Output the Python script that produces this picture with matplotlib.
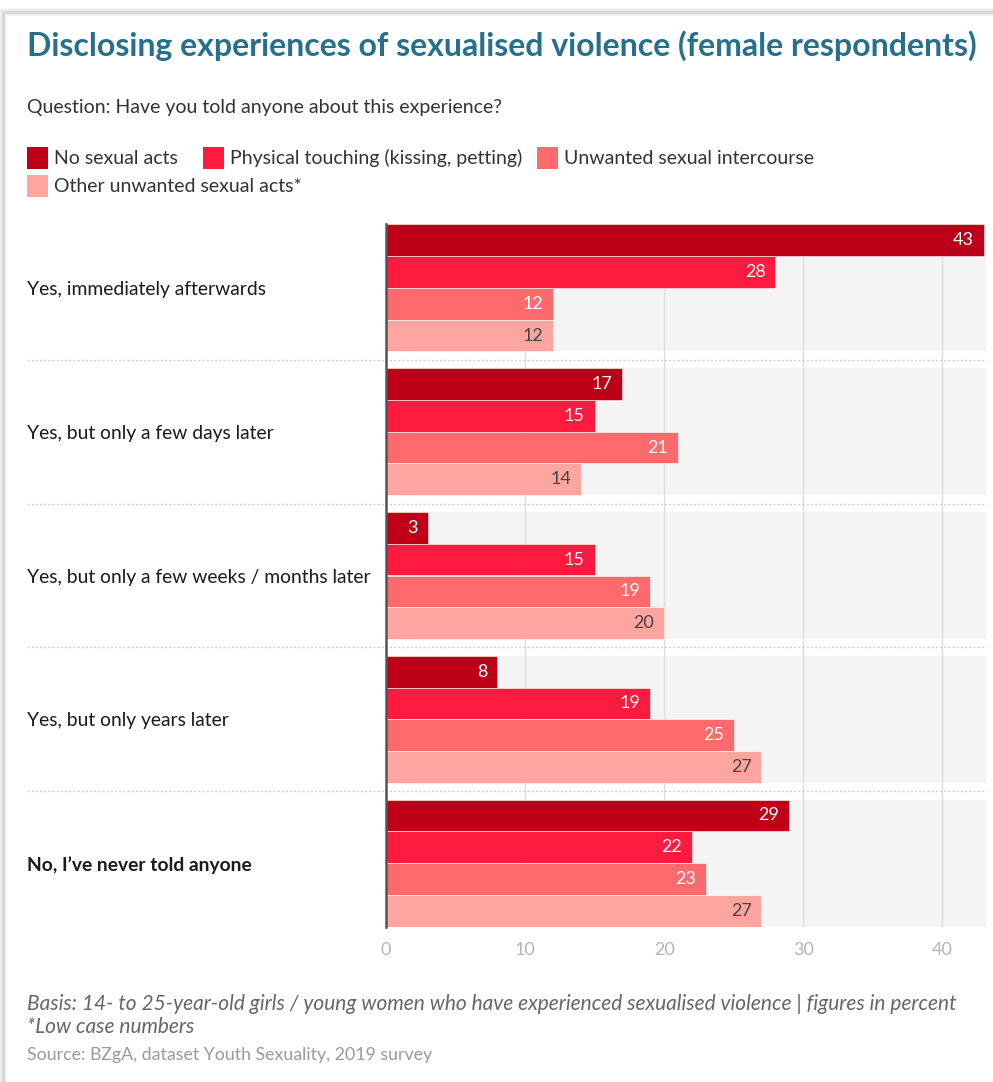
import matplotlib
matplotlib.use("Agg")
import matplotlib.pyplot as plt
from matplotlib.patches import Rectangle
from matplotlib.transforms import blended_transform_factory
import numpy as np

plt.rcParams["font.family"] = ["Lato", "DejaVu Sans"]

W, H = 993, 1082

categories = [
    "Yes, immediately afterwards",
    "Yes, but only a few days later",
    "Yes, but only a few weeks / months later",
    "Yes, but only years later",
    "No, I\u2019ve never told anyone",
]
series = [
    "No sexual acts",
    "Physical touching (kissing, petting)",
    "Unwanted sexual intercourse",
    "Other unwanted sexual acts*",
]
no_sexual_acts = [43, 17, 3, 8, 29]
physical_touching = [28, 15, 15, 19, 22]
unwanted_intercourse = [12, 21, 19, 25, 23]
other_unwanted = [12, 14, 20, 27, 27]
values = [no_sexual_acts, physical_touching, unwanted_intercourse, other_unwanted]
xticks = [0, 10, 20, 30, 40]

colors = ["#bd0017", "#ff1a40", "#ff6a6c", "#ffa5a0"]
label_colors = ["white", "white", "white", "#444444"]

fig = plt.figure(figsize=(W / 100, H / 100), dpi=100)
fig.patch.set_facecolor("white")


def fx(px):
    return px / W


def fy(py):
    return 1 - py / H


# card shadow (top and left edges only show)
for lw, a in [(6, 0.03), (4, 0.05), (2, 0.08)]:
    fig.patches.append(Rectangle((fx(3), fy(H + 20)), fx(W + 20), fy(12) - fy(H + 20),
                                 transform=fig.transFigure, facecolor="none",
                                 edgecolor="black", lw=lw, alpha=a, zorder=0))

ax = fig.add_axes([fx(386), fy(927), fx(986) - fx(386), fy(224) - fy(927)])

n_groups = len(categories)
n_series = len(series)
bar_h = 0.2215
group_span = bar_h * n_series
y_centers = np.arange(n_groups)

for g in range(n_groups):
    ax.axhspan(g - group_span / 2, g + group_span / 2, color="#f4f4f4", zorder=0, lw=0)

for s in range(n_series):
    ys = y_centers - group_span / 2 + bar_h * (s + 0.5)
    ax.barh(ys, values[s], height=bar_h, color=colors[s], edgecolor="white",
            linewidth=0.4, zorder=2)
    for y, v in zip(ys, values[s]):
        ax.annotate(str(v), (v, y), xytext=(-7, 0), textcoords="offset points",
                    ha="right", va="center", fontsize=13, color=label_colors[s], zorder=3)

ax.set_xlim(0, 43.15)
ax.set_ylim(n_groups - 1 + group_span / 2, -group_span / 2)
ax.set_xticks(xticks)
ax.set_yticks([])
ax.tick_params(axis="x", length=0, pad=11, labelsize=13, labelcolor="#b5b5b5")
ax.xaxis.grid(True, color="#dcdcdc", lw=1, zorder=1)
ax.set_axisbelow(True)
for side in ["top", "right", "bottom"]:
    ax.spines[side].set_visible(False)
ax.spines["left"].set_color("#555555")
ax.spines["left"].set_linewidth(1.8)
ax.spines["left"].set_zorder(4)
ax.patch.set_alpha(0)

trans = blended_transform_factory(fig.transFigure, ax.transData)
for g, cat in enumerate(categories):
    ax.text(fx(27), g, cat, transform=trans, ha="left", va="center_baseline", fontsize=13.9,
            color="#1a1a1a", fontweight="bold" if g == n_groups - 1 else "normal")
for g in range(n_groups - 1):
    ax.plot([fx(27), fx(986)], [g + 0.5, g + 0.5], transform=trans, clip_on=False,
            color="#cfcfcf", lw=1, ls=(0, (1.5, 1.5)), zorder=1)

fig.text(fx(27), fy(46), "Disclosing experiences of sexualised violence (female respondents)",
         fontsize=23, fontweight="bold", color="#26708c", ha="left", va="center")
fig.text(fx(27), fy(108), "Question: Have you told anyone about this experience?",
         fontsize=14, color="#333333", ha="left", va="center")

legend_pos = [(27, 158), (203, 158), (537, 158), (27, 186)]
for (px, py), name, c in zip(legend_pos, series, colors):
    fig.patches.append(Rectangle((fx(px), fy(py + 11)), fx(21), fy(0) - fy(22),
                                 transform=fig.transFigure, facecolor=c, edgecolor="none"))
    fig.text(fx(px + 27), fy(py), name, fontsize=14, color="#333333",
             ha="left", va="center")

fig.text(fx(27), fy(1004),
         "Basis: 14- to 25-year-old girls / young women who have experienced sexualised violence | figures in percent",
         fontsize=15, style="italic", color="#666666", ha="left", va="center")
fig.text(fx(27), fy(1027), "*Low case numbers",
         fontsize=15, style="italic", color="#666666", ha="left", va="center")
fig.text(fx(27), fy(1055), "Source: BZgA, dataset Youth Sexuality, 2019 survey",
         fontsize=12.8, color="#9a9a9a", ha="left", va="center")

fig.savefig("out.png", dpi=100)
